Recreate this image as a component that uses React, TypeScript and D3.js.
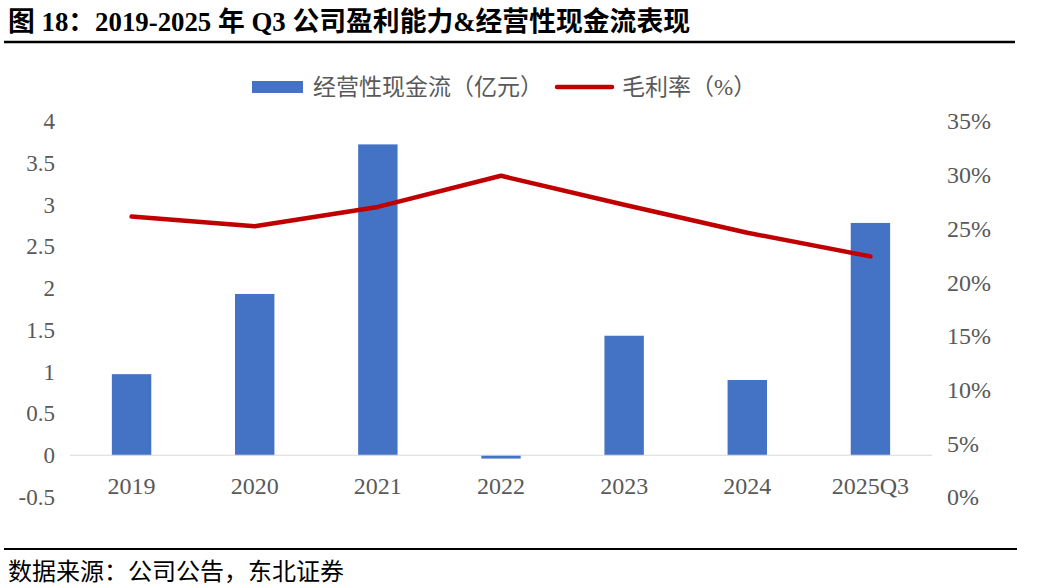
import { useEffect, useRef } from "react";
import * as d3 from "d3";

const categories = ["2019", "2020", "2021", "2022", "2023", "2024", "2025Q3"];
const cashFlow = [0.97, 1.93, 3.72, -0.04, 1.43, 0.9, 2.78];
const grossMargin = [26.1, 25.2, 27.0, 29.9, 27.2, 24.6, 22.4];
const leftTicks = [-0.5, 0, 0.5, 1, 1.5, 2, 2.5, 3, 3.5, 4];
const rightTicks = [0, 5, 10, 15, 20, 25, 30, 35];

const TITLE = "图 18：2019-2025 年 Q3 公司盈利能力&经营性现金流表现";
const SOURCE = "数据来源：公司公告，东北证券";
const LEGEND_BAR = "经营性现金流（亿元）";
const LEGEND_LINE = "毛利率（%）";

const FONT = '"Liberation Serif", "Noto Sans CJK SC", serif';

export default function App() {
  const svgRef = useRef<SVGSVGElement>(null);

  useEffect(() => {
    document.body.style.margin = "0";
    if (!svgRef.current) return;

    const svg = d3.select(svgRef.current);
    svg.selectAll("*").remove();

    const left = 70;
    const right = 932;
    const top = 121;
    const bottom = 497;

    const x = d3
      .scaleBand<string>()
      .domain(categories)
      .range([left, right])
      .paddingInner(0.68)
      .paddingOuter(0.34);

    const yLeft = d3.scaleLinear().domain([-0.5, 4]).range([bottom, top]);
    const yRight = d3.scaleLinear().domain([0, 35]).range([bottom, top]);

    // Title
    svg
      .append("text")
      .attr("x", 8)
      .attr("y", 31)
      .attr("textLength", 682)
      .attr("lengthAdjust", "spacingAndGlyphs")
      .style("font-family", FONT)
      .style("font-weight", "bold")
      .style("font-size", "27px")
      .style("fill", "#000")
      .text(TITLE);

    svg
      .append("line")
      .attr("x1", 4)
      .attr("x2", 1015)
      .attr("y1", 42)
      .attr("y2", 42)
      .attr("stroke", "#000")
      .attr("stroke-width", 2.5);

    // Bars
    svg
      .selectAll(".bar")
      .data(cashFlow)
      .enter()
      .append("rect")
      .attr("class", "bar")
      .attr("x", (_, i) => x(categories[i]) as number)
      .attr("width", x.bandwidth())
      .attr("y", (d) => yLeft(Math.max(0, d)))
      .attr("height", (d) => Math.abs(yLeft(d) - yLeft(0)))
      .attr("fill", "#4472C4");

    // Zero baseline
    svg
      .append("line")
      .attr("x1", left)
      .attr("x2", right)
      .attr("y1", yLeft(0))
      .attr("y2", yLeft(0))
      .attr("stroke", "#D9D9D9")
      .attr("stroke-width", 1);

    // Margin line
    const line = d3
      .line<number>()
      .x((_, i) => (x(categories[i]) as number) + x.bandwidth() / 2)
      .y((d) => yRight(d));

    svg
      .append("path")
      .datum(grossMargin)
      .attr("fill", "none")
      .attr("stroke", "#C00000")
      .attr("stroke-width", 4.5)
      .attr("stroke-linejoin", "round")
      .attr("stroke-linecap", "round")
      .attr("d", line);

    // Category labels
    svg
      .selectAll(".xlabel")
      .data(categories)
      .enter()
      .append("text")
      .attr("x", (d) => (x(d) as number) + x.bandwidth() / 2)
      .attr("y", 486)
      .attr("dy", "0.35em")
      .attr("text-anchor", "middle")
      .style("font-family", FONT)
      .style("font-size", "24px")
      .style("fill", "#595959")
      .text((d) => d);

    // Left axis labels
    svg
      .selectAll(".ylabel")
      .data(leftTicks)
      .enter()
      .append("text")
      .attr("x", 55)
      .attr("y", (d) => yLeft(d))
      .attr("dy", "0.35em")
      .attr("text-anchor", "end")
      .style("font-family", FONT)
      .style("font-size", "23px")
      .style("fill", "#595959")
      .text((d) => String(d));

    // Right axis labels
    svg
      .selectAll(".rlabel")
      .data(rightTicks)
      .enter()
      .append("text")
      .attr("x", 947)
      .attr("y", (d) => yRight(d))
      .attr("dy", "0.35em")
      .style("font-family", FONT)
      .style("font-size", "24px")
      .style("fill", "#595959")
      .text((d) => `${d}%`);

    // Legend
    const legend = svg.append("g").attr("transform", "translate(252, 87)");

    legend
      .append("rect")
      .attr("x", 0)
      .attr("y", -6)
      .attr("width", 51)
      .attr("height", 12)
      .attr("fill", "#4472C4");

    legend
      .append("text")
      .attr("x", 61)
      .attr("y", 0)
      .attr("dy", "0.35em")
      .style("font-family", FONT)
      .style("font-size", "23px")
      .style("fill", "#595959")
      .text(LEGEND_BAR);

    legend
      .append("line")
      .attr("x1", 305)
      .attr("x2", 360)
      .attr("y1", 0)
      .attr("y2", 0)
      .attr("stroke", "#C00000")
      .attr("stroke-width", 4.5)
      .attr("stroke-linecap", "round");

    legend
      .append("text")
      .attr("x", 370)
      .attr("y", 0)
      .attr("dy", "0.35em")
      .style("font-family", FONT)
      .style("font-size", "23px")
      .style("fill", "#595959")
      .text(LEGEND_LINE);

    // Footer
    svg
      .append("line")
      .attr("x1", 4)
      .attr("x2", 1017)
      .attr("y1", 549)
      .attr("y2", 549)
      .attr("stroke", "#000")
      .attr("stroke-width", 2);

    svg
      .append("text")
      .attr("x", 8)
      .attr("y", 580)
      .style("font-family", FONT)
      .style("font-size", "24px")
      .style("fill", "#000")
      .text(SOURCE);
  }, []);

  return (
    <svg
      ref={svgRef}
      width={1040}
      height={588}
      style={{ display: "block", background: "#fff" }}
    />
  );
}
